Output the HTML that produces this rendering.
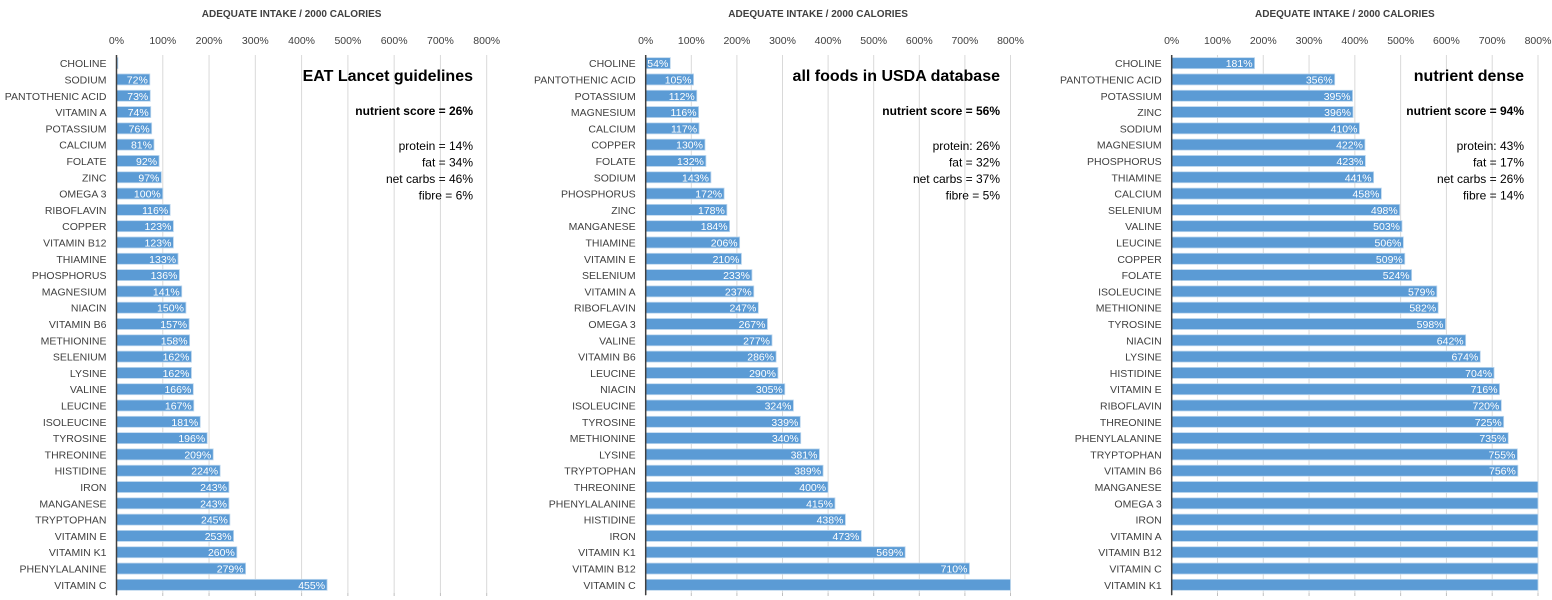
<!DOCTYPE html>
<html><head><meta charset="utf-8"><style>
html,body{margin:0;padding:0;background:#fff;}
svg{display:block;font-family:"Liberation Sans",sans-serif;}
</style></head><body>
<svg id="chart" width="1552" height="600"></svg>
<script>
const cats1=["CHOLINE","SODIUM","PANTOTHENIC ACID","VITAMIN A","POTASSIUM","CALCIUM","FOLATE","ZINC","OMEGA 3","RIBOFLAVIN","COPPER","VITAMIN B12","THIAMINE","PHOSPHORUS","MAGNESIUM","NIACIN","VITAMIN B6","METHIONINE","SELENIUM","LYSINE","VALINE","LEUCINE","ISOLEUCINE","TYROSINE","THREONINE","HISTIDINE","IRON","MANGANESE","TRYPTOPHAN","VITAMIN E","VITAMIN K1","PHENYLALANINE","VITAMIN C"];
const vals1=[3,72,73,74,76,81,92,97,100,116,123,123,133,136,141,150,157,158,162,162,166,167,181,196,209,224,243,243,245,253,260,279,455];
const cats2=["CHOLINE","PANTOTHENIC ACID","POTASSIUM","MAGNESIUM","CALCIUM","COPPER","FOLATE","SODIUM","PHOSPHORUS","ZINC","MANGANESE","THIAMINE","VITAMIN E","SELENIUM","VITAMIN A","RIBOFLAVIN","OMEGA 3","VALINE","VITAMIN B6","LEUCINE","NIACIN","ISOLEUCINE","TYROSINE","METHIONINE","LYSINE","TRYPTOPHAN","THREONINE","PHENYLALANINE","HISTIDINE","IRON","VITAMIN K1","VITAMIN B12","VITAMIN C"];
const vals2=[54,105,112,116,117,130,132,143,172,178,184,206,210,233,237,247,267,277,286,290,305,324,339,340,381,389,400,415,438,473,569,710,1000];
const cats3=["CHOLINE","PANTOTHENIC ACID","POTASSIUM","ZINC","SODIUM","MAGNESIUM","PHOSPHORUS","THIAMINE","CALCIUM","SELENIUM","VALINE","LEUCINE","COPPER","FOLATE","ISOLEUCINE","METHIONINE","TYROSINE","NIACIN","LYSINE","HISTIDINE","VITAMIN E","RIBOFLAVIN","THREONINE","PHENYLALANINE","TRYPTOPHAN","VITAMIN B6","MANGANESE","OMEGA 3","IRON","VITAMIN A","VITAMIN B12","VITAMIN C","VITAMIN K1"];
const vals3=[181,356,395,396,410,422,423,441,458,498,503,506,509,524,579,582,598,642,674,704,716,720,725,735,755,756,1000,1000,1000,1000,1000,1000,1000];
const ticks=[0,100,200,300,400,500,600,700,800];
const titles=["EAT Lancet guidelines","all foods in USDA database","nutrient dense"];
const scores=["nutrient score = 26%","nutrient score = 56%","nutrient score = 94%"];
const macros=[["protein = 14%","fat = 34%","net carbs = 46%","fibre = 6%"],["protein: 26%","fat = 32%","net carbs = 37%","fibre = 5%"],["protein: 43%","fat = 17%","net carbs = 26%","fibre = 14%"]];

const svg=document.getElementById('chart');
const NS="http://www.w3.org/2000/svg";
function mk(tag,attrs,parent){const e=document.createElementNS(NS,tag);for(const k in attrs)e.setAttribute(k,attrs[k]);parent.appendChild(e);return e;}
const panels=[{x0:116.5,x8:486.7,cats:cats1,vals:vals1,tr:473},{x0:645.7,x8:1010.5,cats:cats2,vals:vals2,tr:1000},{x0:1171.7,x8:1538,cats:cats3,vals:vals3,tr:1524}];
const plotTop=55,plotBot=593;
panels.forEach((p,pi)=>{
  const g=mk('g',{},svg);
  
  
  const xs=v=>p.x0+(Math.min(v,800)/800)*(p.x8-p.x0);
  const n=p.cats.length, rh=(plotBot-plotTop)/n;
  const ys=i=>plotTop+rh*i+rh/2;
  const at=mk('text',{x:(p.x0+p.x8)/2-10,y:17,'text-anchor':'middle','font-size':'10','font-weight':'bold',fill:'#404040'},g);
  at.textContent="ADEQUATE INTAKE / 2000 CALORIES";
  
  
  ticks.forEach(t=>{
    if(t>0){const l=mk('line',{x1:xs(t),x2:xs(t),y1:plotTop,y2:plotBot,stroke:'#d9d9d9','stroke-width':1},g);
      
      }
    const tk=mk('line',{x1:xs(t),x2:xs(t),y1:plotBot,y2:plotBot+3,stroke:'#bfbfbf'},g);
    
    
    const tl=mk('text',{x:xs(t),y:44,'text-anchor':'middle','font-size':'10.5',fill:'#404040'},g);
    tl.textContent=t+'%';
    
    
  });
  p.cats.forEach((c,i)=>{
    const y=ys(i);
    const lab=mk('text',{x:p.x0-10,y:y+4,'text-anchor':'end','font-size':'10.5',fill:'#404040'},g);
    lab.textContent=c;
    
    
    const v=p.vals[i];
    const b=mk('rect',{x:p.x0,y:y-5.5,width:xs(v)-p.x0,height:11,fill:'#5b9bd5',stroke:'#bdd7ee','stroke-width':0.8},g);
    
    
    if(v<=800){
      const vl=mk('text',{x:Math.max(xs(v)-2,p.x0+12),y:y+4,'text-anchor':'end','font-size':'10.5',fill:'#fff'},g);
      vl.textContent=(v<10?v:v+'%');
      
      
    }
  });
  const ax=mk('line',{x1:p.x0,x2:p.x0,y1:plotTop,y2:plotBot+2,stroke:'#404040','stroke-width':1.5},g);
  
  
  const tt=mk('text',{x:p.tr,y:81,'text-anchor':'end','font-size':'16','font-weight':'bold',fill:'#000'},g);
  tt.textContent=titles[pi];
  
  
  const sc=mk('text',{x:p.tr,y:115,'text-anchor':'end','font-size':'12','font-weight':'bold',fill:'#000'},g);
  sc.textContent=scores[pi];
  
  
  macros[pi].forEach((m,k)=>{
    const mt=mk('text',{x:p.tr,y:150+k*16.5,'text-anchor':'end','font-size':'12',fill:'#000'},g);
    mt.textContent=m;
    
    
  });
});
</script>
</body></html>
